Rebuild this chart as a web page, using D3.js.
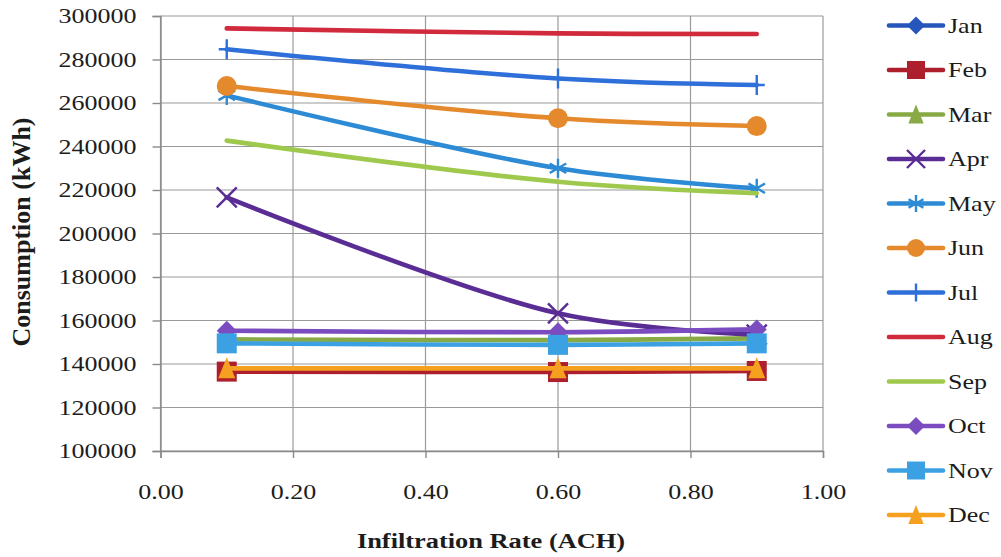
<!DOCTYPE html>
<html>
<head>
<meta charset="utf-8">
<script src="https://cdn.jsdelivr.net/npm/d3@7"></script>
<style>
  html, body { margin: 0; padding: 0; background: #fff; }
  svg { display: block; }
  text { font-family: "Liberation Serif", "Times New Roman", serif; fill: #1c1c1c; }
</style>
</head>
<body>
<svg id="chart" width="1001" height="557"></svg>
<script>
// Infiltration rates (ACH) at which each month was simulated
const rates = [0.1, 0.6, 0.9];
const months = ["Jan", "Feb", "Mar", "Apr", "May", "Jun", "Jul", "Aug", "Sep", "Oct", "Nov", "Dec"];

// Monthly consumption (kWh) at each infiltration rate
const jan = [137000, 137000, 137200];
const feb = [136500, 136300, 136800];
const mar = [151300, 151000, 151800];
const apr = [216600, 163300, 153500];
const may = [263500, 230000, 220800];
const jun = [267800, 253000, 249400];
const jul = [284700, 271300, 268300];
const aug = [294300, 292000, 291700];
const sep = [242700, 223800, 218500];
const oct = [155300, 154600, 155900];
const nov = [149500, 148800, 149500];
const dec = [138000, 138000, 138000];

const xTickValues = [0, 0.2, 0.4, 0.6, 0.8, 1.0];
const yTickValues = [100000, 120000, 140000, 160000, 180000, 200000, 220000, 240000, 260000, 280000, 300000];

const seriesValues = [jan, feb, mar, apr, may, jun, jul, aug, sep, oct, nov, dec];
const colors = ["#2656bb", "#ad1f2c", "#88aa45", "#5a2d95", "#2d8ad5", "#e4892c",
                "#2e6fd9", "#d02a3c", "#9ec94c", "#7b4cbf", "#3ba1e2", "#f6a020"];
const markers = ["diamond", "square", "triangle", "x", "asterisk", "circle",
                 "plus", null, null, "diamond", "square", "triangle"];

const svg = d3.select("#chart");
const SX = 1.3; // horizontal glyph stretch

const x = d3.scaleLinear().domain([0, 1]).range([160.5, 823]);
const y = d3.scaleLinear().domain([100000, 300000]).range([451, 16]);

// Gridlines
const grid = svg.append("g").attr("stroke", "#9a9a9a").attr("stroke-width", 1.2);
grid.selectAll("line.h").data(yTickValues).join("line")
  .attr("x1", x(0)).attr("x2", x(1))
  .attr("y1", d => y(d)).attr("y2", d => y(d));
grid.selectAll("line.v").data(xTickValues).join("line")
  .attr("y1", y(100000)).attr("y2", y(300000))
  .attr("x1", d => x(d)).attr("x2", d => x(d));

// Axes
const yAxis = svg.append("g").attr("transform", `translate(${x(0)},0)`)
  .call(d3.axisLeft(y).tickValues(yTickValues).tickSize(8).tickPadding(0).tickFormat(d3.format("d")));
const xAxis = svg.append("g").attr("transform", `translate(0,${y(100000)})`)
  .call(d3.axisBottom(x).tickValues(xTickValues).tickSize(7).tickPadding(0).tickFormat(d3.format(".2f")));

[yAxis, xAxis].forEach(a => {
  a.select(".domain").attr("stroke", "#8a8a8a").attr("stroke-width", 1.4);
  a.selectAll(".tick line").attr("stroke", "#8a8a8a").attr("stroke-width", 1.4);
  a.selectAll(".tick text").attr("fill", "#1c1c1c")
    .style("font-family", '"Liberation Serif", serif').style("font-size", "20px");
});
yAxis.selectAll(".tick text")
  .attr("x", -24 / SX).attr("dy", "0.34em")
  .attr("transform", `scale(${SX},1)`);
xAxis.selectAll(".tick text")
  .attr("y", 48).attr("dy", 0)
  .attr("transform", `scale(${SX},1)`);

// Axis titles
svg.append("text")
  .attr("transform", `translate(491,548) scale(1.2,1)`)
  .attr("text-anchor", "middle")
  .style("font-weight", "bold").style("font-size", "22px")
  .text("Infiltration Rate (ACH)");
svg.append("text")
  .attr("transform", `translate(30,232) rotate(-90)`)
  .attr("text-anchor", "middle")
  .style("font-weight", "bold").style("font-size", "26px")
  .text("Consumption (kWh)");

// Marker shapes, centred on 0,0
function markerPath(type, s) {
  const h = s / 2;
  switch (type) {
    case "diamond": return `M0,${-h}L${h},0L0,${h}L${-h},0Z`;
    case "square": return `M${-h},${-h}H${h}V${h}H${-h}Z`;
    case "triangle": return `M0,${-h - 1}L${h * 0.85},${h}L${-h * 0.85},${h}Z`;
    case "x": return `M${-h},${-h}L${h},${h}M${h},${-h}L${-h},${h}`;
    case "plus": return `M${-h * 0.8},0H${h * 0.8}M0,${-h}V${h}`;
    case "asterisk": {
      const a = h * 0.95;
      return `M0,${-a}V${a}M${-a * 0.87},${-a * 0.5}L${a * 0.87},${a * 0.5}M${-a * 0.87},${a * 0.5}L${a * 0.87},${-a * 0.5}`;
    }
    default: return "";
  }
}
function drawMarker(g, type, color, size) {
  if (!type) return;
  if (type === "circle") {
    g.append("circle").attr("r", size / 2).attr("fill", color);
  } else if (type === "x" || type === "plus" || type === "asterisk") {
    g.append("path").attr("d", markerPath(type, size))
      .attr("fill", "none").attr("stroke", color).attr("stroke-width", 2.4);
  } else {
    g.append("path").attr("d", markerPath(type, size)).attr("fill", color);
  }
}

const line = d3.line()
  .x((d, i) => x(rates[i]))
  .y(d => y(d))
  .curve(d3.curveCatmullRom.alpha(0.5));

// Series: each month's line followed by its markers
const plot = svg.append("g");
seriesValues.forEach((vals, k) => {
  const g = plot.append("g");
  g.append("path").datum(vals).attr("d", line)
    .attr("fill", "none").attr("stroke", colors[k]).attr("stroke-width", 4.6)
    .attr("stroke-linecap", "round").attr("stroke-linejoin", "round");
  if (markers[k]) {
    vals.forEach((v, i) => {
      const mg = g.append("g").attr("transform", `translate(${x(rates[i])},${y(v)})`);
      drawMarker(mg, markers[k], colors[k], 20);
    });
  }
});

// Legend
const legend = svg.append("g");
months.forEach((m, k) => {
  const cy = 25.5 + k * 44.5;
  const g = legend.append("g").attr("transform", `translate(0,${cy})`);
  g.append("line").attr("x1", 889).attr("x2", 943).attr("y1", 0).attr("y2", 0)
    .attr("stroke", colors[k]).attr("stroke-width", 4.6).attr("stroke-linecap", "round");
  const mg = g.append("g").attr("transform", "translate(916,0)");
  drawMarker(mg, markers[k], colors[k], 18);
  g.append("text").attr("transform", `translate(948,7) scale(${SX},1)`)
    .style("font-size", "20px").text(m);
});
</script>
</body>
</html>
